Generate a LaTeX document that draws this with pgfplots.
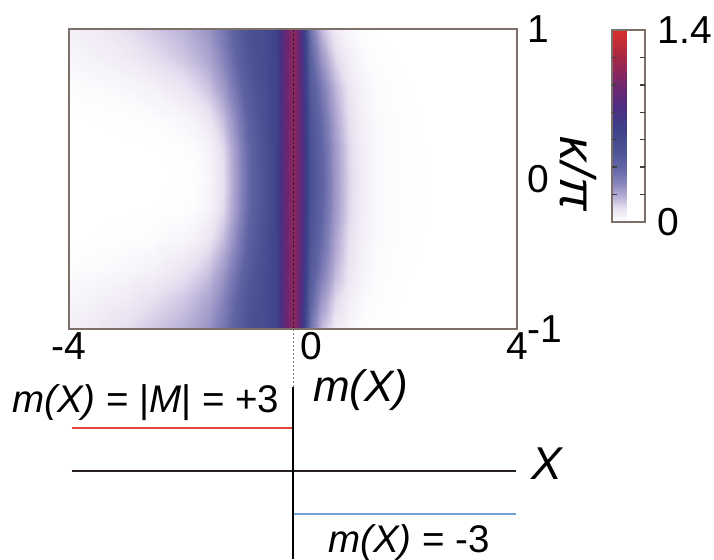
\documentclass[border=0pt]{standalone}
\usepackage{fontspec}
\setmainfont{Liberation Sans}
\usepackage{pgfplots}
\pgfplotsset{compat=1.18}

\definecolor{framecol}{RGB}{125,112,104}
\definecolor{stepred}{RGB}{226,72,60}
\definecolor{stepblue}{RGB}{112,160,214}
\definecolor{ridge}{RGB}{45,25,55}
\definecolor{axisdark}{RGB}{40,32,32}

\begin{document}
\begin{tikzpicture}[x=1pt,y=1pt]
\useasboundingbox (0,0) rectangle (714,559);

% kappa/pi map over (m, k)
\begin{axis}[
  at={(69pt,230pt)}, anchor=south west,
  scale only axis, width=448pt, height=300pt,
  xmin=-4, xmax=4, ymin=-1, ymax=1, enlargelimits=false,
  axis line style={draw=framecol, line width=1.3pt},
  axis on top,
  xtick={-4,4}, xticklabels={-4,4},
  extra x ticks={0}, extra x tick labels={0},
  extra x tick style={xticklabel style={xshift=18pt}},
  ytick={-1,0,1}, yticklabels={-1,0,1}, yticklabel pos=right,
  yticklabel style={xshift=7pt},
  major tick length=0pt,
  tick label style={font=\fontsize{39}{42}\selectfont},
  colormap={kappa}{rgb255(0cm)=(255,255,255) rgb255(1cm)=(232,224,240)
    rgb255(2cm)=(176,168,210) rgb255(3cm)=(130,128,185) rgb255(4cm)=(95,100,163)
    rgb255(5.5cm)=(72,80,146) rgb255(7cm)=(60,62,136) rgb255(8.5cm)=(80,45,128)
    rgb255(10cm)=(112,38,112) rgb255(12cm)=(168,40,68) rgb255(14cm)=(216,48,44)},
  point meta min=0, point meta max=1.4,
  colorbar,
  colorbar style={
    at={(parent axis.north east)}, anchor=north west,
    xshift=86.5pt, yshift=-1pt,
    scale only axis, width=33pt, height=192pt,
    axis line style={draw=framecol, line width=1.2pt},
    ytick={0,1.4}, yticklabels={0,1.4},
    yticklabel pos=right, major tick length=0pt,
    yticklabel style={xshift=9pt},
    tick label style={font=\fontsize{39}{42}\selectfont},
  },
]
\addplot[surf, shader=interp, mesh/cols=27, point meta=explicit] coordinates {
(-4,-1) [0.05] (-3.5,-1) [0.07] (-3,-1) [0.1] (-2.5,-1) [0.14] (-2,-1) [0.18] (-1.75,-1) [0.21] (-1.5,-1) [0.25] (-1.25,-1) [0.33] (-1,-1) [0.45] (-0.75,-1) [0.55] (-0.5,-1) [0.59] (-0.3,-1) [0.66] (-0.15,-1) [0.95] (-0.06,-1) [1.05] (0,-1) [1.1] (0.06,-1) [1.05] (0.15,-1) [0.85] (0.3,-1) [0.35] (0.5,-1) [0.17] (0.75,-1) [0.07] (1,-1) [0.025] (1.25,-1) [0.008] (1.5,-1) [0] (2,-1) [0] (2.5,-1) [0] (3,-1) [0] (4,-1) [0]

(-4,-0.8) [0.03] (-3.5,-0.8) [0.045] (-3,-0.8) [0.065] (-2.5,-0.8) [0.1] (-2,-0.8) [0.14] (-1.75,-0.8) [0.17] (-1.5,-0.8) [0.21] (-1.25,-0.8) [0.29] (-1,-0.8) [0.41] (-0.75,-0.8) [0.53] (-0.5,-0.8) [0.58] (-0.3,-0.8) [0.66] (-0.15,-0.8) [0.95] (-0.06,-0.8) [1.05] (0,-0.8) [1.1] (0.06,-0.8) [1.05] (0.15,-0.8) [0.87] (0.3,-0.8) [0.42] (0.5,-0.8) [0.25] (0.75,-0.8) [0.12] (1,-0.8) [0.055] (1.25,-0.8) [0.022] (1.5,-0.8) [0.007] (2,-0.8) [0] (2.5,-0.8) [0] (3,-0.8) [0] (4,-0.8) [0]

(-4,-0.6) [0.01] (-3.5,-0.6) [0.015] (-3,-0.6) [0.025] (-2.5,-0.6) [0.045] (-2,-0.6) [0.08] (-1.75,-0.6) [0.11] (-1.5,-0.6) [0.15] (-1.25,-0.6) [0.23] (-1,-0.6) [0.35] (-0.75,-0.6) [0.49] (-0.5,-0.6) [0.57] (-0.3,-0.6) [0.66] (-0.15,-0.6) [0.95] (-0.06,-0.6) [1.05] (0,-0.6) [1.1] (0.06,-0.6) [1.05] (0.15,-0.6) [0.89] (0.3,-0.6) [0.48] (0.5,-0.6) [0.33] (0.75,-0.6) [0.18] (1,-0.6) [0.085] (1.25,-0.6) [0.038] (1.5,-0.6) [0.014] (2,-0.6) [0.002] (2.5,-0.6) [0] (3,-0.6) [0] (4,-0.6) [0]

(-4,-0.4) [0] (-3.5,-0.4) [0.002] (-3,-0.4) [0.005] (-2.5,-0.4) [0.012] (-2,-0.4) [0.03] (-1.75,-0.4) [0.047] (-1.5,-0.4) [0.085] (-1.25,-0.4) [0.16] (-1,-0.4) [0.29] (-0.75,-0.4) [0.45] (-0.5,-0.4) [0.56] (-0.3,-0.4) [0.66] (-0.15,-0.4) [0.95] (-0.06,-0.4) [1.05] (0,-0.4) [1.1] (0.06,-0.4) [1.05] (0.15,-0.4) [0.9] (0.3,-0.4) [0.52] (0.5,-0.4) [0.38] (0.75,-0.4) [0.21] (1,-0.4) [0.1] (1.25,-0.4) [0.047] (1.5,-0.4) [0.018] (2,-0.4) [0.004] (2.5,-0.4) [0] (3,-0.4) [0] (4,-0.4) [0]

(-4,-0.2) [0] (-3.5,-0.2) [0] (-3,-0.2) [0] (-2.5,-0.2) [0.001] (-2,-0.2) [0.005] (-1.75,-0.2) [0.013] (-1.5,-0.2) [0.04] (-1.25,-0.2) [0.11] (-1,-0.2) [0.25] (-0.75,-0.2) [0.42] (-0.5,-0.2) [0.54] (-0.3,-0.2) [0.66] (-0.15,-0.2) [0.95] (-0.06,-0.2) [1.05] (0,-0.2) [1.1] (0.06,-0.2) [1.05] (0.15,-0.2) [0.91] (0.3,-0.2) [0.54] (0.5,-0.2) [0.41] (0.75,-0.2) [0.235] (1,-0.2) [0.117] (1.25,-0.2) [0.053] (1.5,-0.2) [0.021] (2,-0.2) [0.005] (2.5,-0.2) [0] (3,-0.2) [0] (4,-0.2) [0]

(-4,0) [0] (-3.5,0) [0] (-3,0) [0] (-2.5,0) [0] (-2,0) [0.002] (-1.75,0) [0.008] (-1.5,0) [0.03] (-1.25,0) [0.1] (-1,0) [0.24] (-0.75,0) [0.41] (-0.5,0) [0.54] (-0.3,0) [0.66] (-0.15,0) [0.95] (-0.06,0) [1.05] (0,0) [1.1] (0.06,0) [1.05] (0.15,0) [0.92] (0.3,0) [0.55] (0.5,0) [0.42] (0.75,0) [0.24] (1,0) [0.12] (1.25,0) [0.055] (1.5,0) [0.022] (2,0) [0.005] (2.5,0) [0] (3,0) [0] (4,0) [0]

(-4,0.2) [0] (-3.5,0.2) [0] (-3,0.2) [0] (-2.5,0.2) [0.001] (-2,0.2) [0.005] (-1.75,0.2) [0.013] (-1.5,0.2) [0.04] (-1.25,0.2) [0.11] (-1,0.2) [0.25] (-0.75,0.2) [0.42] (-0.5,0.2) [0.54] (-0.3,0.2) [0.66] (-0.15,0.2) [0.95] (-0.06,0.2) [1.05] (0,0.2) [1.1] (0.06,0.2) [1.05] (0.15,0.2) [0.91] (0.3,0.2) [0.54] (0.5,0.2) [0.41] (0.75,0.2) [0.235] (1,0.2) [0.117] (1.25,0.2) [0.053] (1.5,0.2) [0.021] (2,0.2) [0.005] (2.5,0.2) [0] (3,0.2) [0] (4,0.2) [0]

(-4,0.4) [0] (-3.5,0.4) [0.002] (-3,0.4) [0.005] (-2.5,0.4) [0.012] (-2,0.4) [0.03] (-1.75,0.4) [0.047] (-1.5,0.4) [0.085] (-1.25,0.4) [0.16] (-1,0.4) [0.29] (-0.75,0.4) [0.45] (-0.5,0.4) [0.56] (-0.3,0.4) [0.66] (-0.15,0.4) [0.95] (-0.06,0.4) [1.05] (0,0.4) [1.1] (0.06,0.4) [1.05] (0.15,0.4) [0.9] (0.3,0.4) [0.52] (0.5,0.4) [0.38] (0.75,0.4) [0.21] (1,0.4) [0.1] (1.25,0.4) [0.047] (1.5,0.4) [0.018] (2,0.4) [0.004] (2.5,0.4) [0] (3,0.4) [0] (4,0.4) [0]

(-4,0.6) [0.01] (-3.5,0.6) [0.015] (-3,0.6) [0.025] (-2.5,0.6) [0.045] (-2,0.6) [0.08] (-1.75,0.6) [0.11] (-1.5,0.6) [0.15] (-1.25,0.6) [0.23] (-1,0.6) [0.35] (-0.75,0.6) [0.49] (-0.5,0.6) [0.57] (-0.3,0.6) [0.66] (-0.15,0.6) [0.95] (-0.06,0.6) [1.05] (0,0.6) [1.1] (0.06,0.6) [1.05] (0.15,0.6) [0.89] (0.3,0.6) [0.48] (0.5,0.6) [0.33] (0.75,0.6) [0.18] (1,0.6) [0.085] (1.25,0.6) [0.038] (1.5,0.6) [0.014] (2,0.6) [0.002] (2.5,0.6) [0] (3,0.6) [0] (4,0.6) [0]

(-4,0.8) [0.03] (-3.5,0.8) [0.045] (-3,0.8) [0.065] (-2.5,0.8) [0.1] (-2,0.8) [0.14] (-1.75,0.8) [0.17] (-1.5,0.8) [0.21] (-1.25,0.8) [0.29] (-1,0.8) [0.41] (-0.75,0.8) [0.53] (-0.5,0.8) [0.58] (-0.3,0.8) [0.66] (-0.15,0.8) [0.95] (-0.06,0.8) [1.05] (0,0.8) [1.1] (0.06,0.8) [1.05] (0.15,0.8) [0.87] (0.3,0.8) [0.42] (0.5,0.8) [0.25] (0.75,0.8) [0.12] (1,0.8) [0.055] (1.25,0.8) [0.022] (1.5,0.8) [0.007] (2,0.8) [0] (2.5,0.8) [0] (3,0.8) [0] (4,0.8) [0]

(-4,1) [0.05] (-3.5,1) [0.07] (-3,1) [0.1] (-2.5,1) [0.14] (-2,1) [0.18] (-1.75,1) [0.21] (-1.5,1) [0.25] (-1.25,1) [0.33] (-1,1) [0.45] (-0.75,1) [0.55] (-0.5,1) [0.59] (-0.3,1) [0.66] (-0.15,1) [0.95] (-0.06,1) [1.05] (0,1) [1.1] (0.06,1) [1.05] (0.15,1) [0.85] (0.3,1) [0.35] (0.5,1) [0.17] (0.75,1) [0.07] (1,1) [0.025] (1.25,1) [0.008] (1.5,1) [0] (2,1) [0] (2.5,1) [0] (3,1) [0] (4,1) [0]
};
% domain wall at m = 0
\addplot[ridge, line width=1pt, dash pattern=on 2.5pt off 2pt] coordinates {(0,-1) (0,1)};
\end{axis}

% inner tick marks of the colour scale, on both sides
\begin{axis}[
  at={(612pt,337pt)}, anchor=south west,
  scale only axis, width=33pt, height=192pt,
  xmin=0, xmax=1, ymin=0, ymax=1.4,
  axis line style={draw=none},
  xtick=\empty,
  ytick={0.2,0.4,0.6,0.8,1,1.2}, yticklabels={},
  ytick pos=both, tick align=inside, major tick length=5pt,
  major tick style={draw=black!75, line width=1.3pt},
]
\end{axis}

% step profile m(X)
\begin{axis}[
  at={(69pt,0pt)}, anchor=south west,
  scale only axis, width=448pt, height=230pt,
  xmin=-4, xmax=4, ymin=-6.2, ymax=10,
  hide axis, clip=false,
]
\addplot[stepred, line width=2pt] coordinates {(-3.95,3) (0,3)};
\addplot[axisdark, line width=2.2pt] coordinates {(-3.95,0) (3.98,0)};
\addplot[stepblue, line width=2pt] coordinates {(0,-3) (3.98,-3)};
\addplot[black, line width=1.6pt] coordinates {(0,-6.2) (0,5.92)};
\addplot[black!50, line width=0.8pt, dash pattern=on 2pt off 2pt] coordinates {(0,5.92) (0,10)};
\end{axis}

\node[anchor=base west, inner sep=0, font=\fontsize{38.5}{40}\selectfont] at (12,146)
  {\textit{m(X)} = |\textit{M}| = +3};
\node[anchor=base west, inner sep=0, font=\fontsize{44}{48}\selectfont] at (313,157)
  {\textit{m(X)}};
\node[anchor=base west, inner sep=0, font=\fontsize{46}{50}\selectfont] at (531,79)
  {\textit{X}};
\node[anchor=base west, inner sep=0, font=\fontsize{38.5}{40}\selectfont] at (328,7)
  {\textit{m(X)} = -3};
\node[rotate=-90, inner sep=0, font=\fontsize{50}{54}\selectfont\itshape] at (578,385)
  {κ\kern1pt/\kern1ptπ};
\end{tikzpicture}
\end{document}
